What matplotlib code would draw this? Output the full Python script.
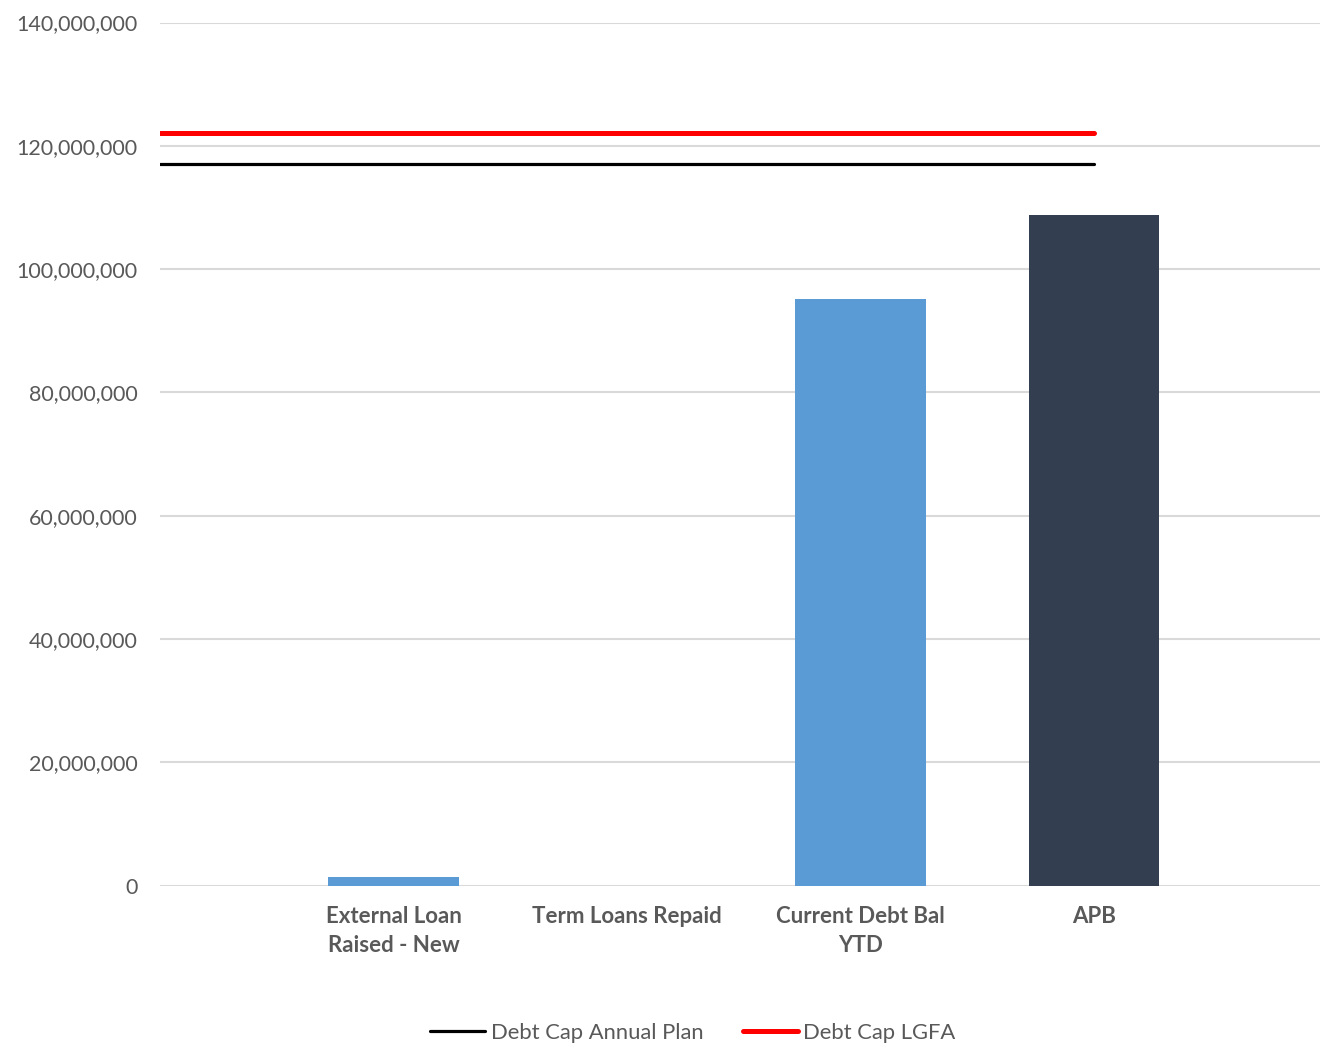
import matplotlib
matplotlib.use("Agg")
import matplotlib.pyplot as plt
from matplotlib.ticker import FuncFormatter
import numpy as np

categories = ["", "External Loan\nRaised - New", "Term Loans Repaid", "Current Debt Bal\nYTD", "APB"]
bar_values = [np.nan, 1.3e6, 0.0, 95.1e6, 108.7e6]
bar_colors = ["#5B9BD5", "#5B9BD5", "#5B9BD5", "#5B9BD5", "#333F50"]
debt_cap_plan = [117e6, 117e6, 117e6, 117e6, 117e6]
debt_cap_lgfa = [122e6, 122e6, 122e6, 122e6, 122e6]

plt.rcParams['font.family'] = ['Lato', 'DejaVu Sans']

fig = plt.figure(figsize=(13.2, 10.51), dpi=100)
ax = fig.add_axes([160/1320, 1-885.5/1051, 1160/1320, (885.5-22.5)/1051])

x = np.arange(len(categories))
ax.bar(x, bar_values, width=0.557, color=bar_colors, zorder=2)
ax.plot(x, debt_cap_plan, color="black", lw=2.3, solid_capstyle="round", zorder=3, label="Debt Cap Annual Plan")
ax.plot(x, debt_cap_lgfa, color="#FF0000", lw=3.6, solid_capstyle="round", zorder=3, label="Debt Cap LGFA")

ax.set_xlim(0, 4.968)
ax.set_ylim(0, 140e6)
ax.set_yticks(np.arange(0, 140e6 + 1, 20e6))
ax.yaxis.set_major_formatter(FuncFormatter(lambda v, p: f"{v:,.0f}"))
ax.grid(axis="y", color="#D9D9D9", lw=1.5, zorder=0)
ax.set_axisbelow(True)
for s in ["top", "right", "left", "bottom"]:
    ax.spines[s].set_visible(False)
ax.tick_params(axis="y", length=0, pad=16, labelsize=15.5, labelcolor="#595959")
ax.set_xticks(x[1:])
ax.set_xticklabels(categories[1:], fontweight="bold", fontsize=16, color="#595959", linespacing=1.45)
ax.tick_params(axis="x", length=0, pad=15)

handles, labels = ax.get_legend_handles_labels()
fig.legend(handles, labels, loc="center", bbox_to_anchor=(693/1320, 1-1033/1051), ncol=2, frameon=False,
           fontsize=15.8, labelcolor="#595959", handlelength=2.5, handletextpad=0.25, columnspacing=1.8)

fig.savefig("out.png", dpi=100, facecolor="white")
